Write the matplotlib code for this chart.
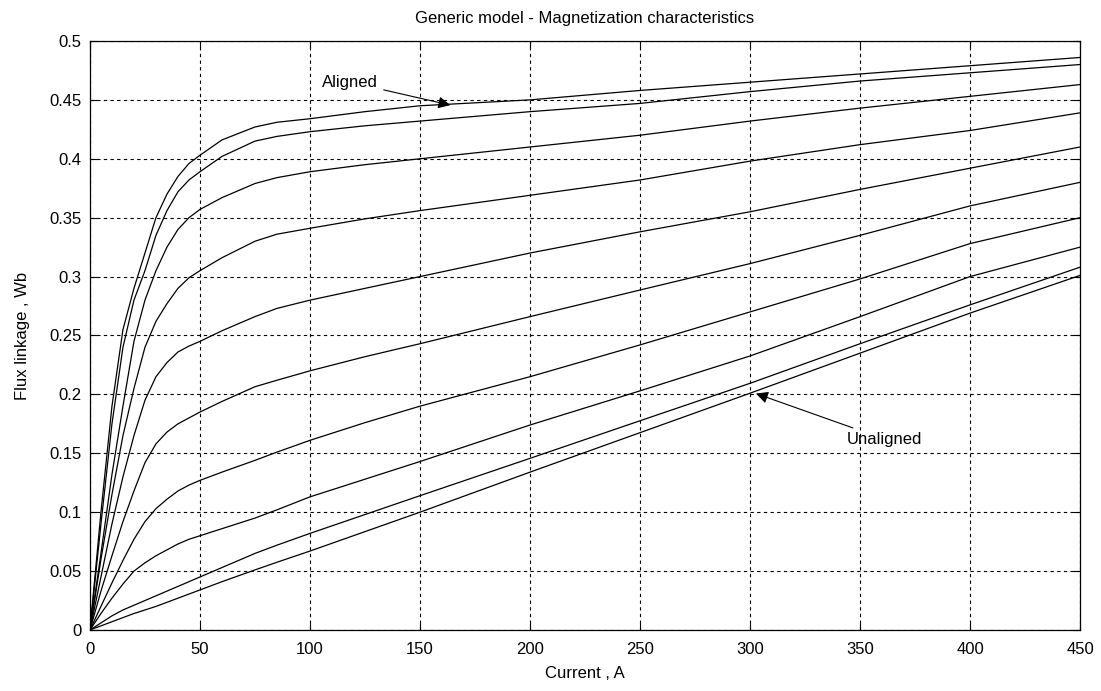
import numpy as np
import matplotlib
matplotlib.use("Agg")
import matplotlib.pyplot as plt

plt.rcParams['font.family'] = ['Liberation Sans', 'DejaVu Sans']

# current (A)
current = [0, 5, 10, 15, 20, 25, 30, 35, 40, 45, 50, 60, 75, 85, 100, 125, 150, 200, 250, 300, 350, 400, 450]

# flux linkage (Wb), from aligned (top) down to unaligned (bottom)
flux_1 = [0, 0.100, 0.190, 0.255, 0.290, 0.320, 0.350, 0.370, 0.385, 0.396, 0.403, 0.416, 0.427, 0.431, 0.434, 0.440, 0.445, 0.450, 0.458, 0.465, 0.472, 0.479, 0.486]
flux_2 = [0, 0.090, 0.175, 0.240, 0.280, 0.305, 0.335, 0.356, 0.372, 0.382, 0.389, 0.402, 0.415, 0.419, 0.423, 0.428, 0.432, 0.440, 0.447, 0.457, 0.466, 0.473, 0.480]
flux_3 = [0, 0.065, 0.132, 0.190, 0.245, 0.280, 0.305, 0.325, 0.340, 0.350, 0.357, 0.367, 0.379, 0.384, 0.389, 0.395, 0.400, 0.410, 0.420, 0.432, 0.443, 0.453, 0.463]
flux_4 = [0, 0.060, 0.115, 0.165, 0.205, 0.240, 0.262, 0.277, 0.290, 0.299, 0.305, 0.316, 0.330, 0.336, 0.341, 0.349, 0.356, 0.369, 0.382, 0.398, 0.412, 0.424, 0.439]
flux_5 = [0, 0.045, 0.090, 0.130, 0.165, 0.195, 0.215, 0.227, 0.236, 0.241, 0.245, 0.254, 0.266, 0.273, 0.280, 0.290, 0.300, 0.320, 0.338, 0.355, 0.374, 0.392, 0.410]
flux_6 = [0, 0.033, 0.063, 0.092, 0.118, 0.142, 0.158, 0.168, 0.175, 0.180, 0.185, 0.194, 0.2065, 0.212, 0.220, 0.232, 0.243, 0.266, 0.2886, 0.311, 0.335, 0.360, 0.380]
flux_7 = [0, 0.020, 0.040, 0.059, 0.077, 0.092, 0.103, 0.111, 0.118, 0.123, 0.127, 0.134, 0.144, 0.151, 0.161, 0.176, 0.190, 0.215, 0.242, 0.270, 0.298, 0.328, 0.350]
flux_8 = [0, 0.014, 0.027, 0.039, 0.050, 0.057, 0.063, 0.068, 0.073, 0.077, 0.080, 0.086, 0.095, 0.102, 0.113, 0.128, 0.143, 0.174, 0.203, 0.2326, 0.266, 0.300, 0.325]
flux_9 = [0, 0.006, 0.012, 0.017, 0.021, 0.025, 0.029, 0.033, 0.037, 0.041, 0.045, 0.053, 0.065, 0.072, 0.082, 0.098, 0.114, 0.1457, 0.1776, 0.2094, 0.243, 0.276, 0.308]
flux_10 = [0, 0.0035, 0.007, 0.0105, 0.014, 0.017, 0.020, 0.0235, 0.027, 0.0305, 0.034, 0.041, 0.051, 0.0575, 0.067, 0.0835, 0.100, 0.134, 0.1675, 0.201, 0.235, 0.269, 0.301]

curves = [flux_1, flux_2, flux_3, flux_4, flux_5, flux_6, flux_7, flux_8, flux_9, flux_10]

x_ticks = [0, 50, 100, 150, 200, 250, 300, 350, 400, 450]
y_ticks = [0, 0.05, 0.1, 0.15, 0.2, 0.25, 0.3, 0.35, 0.4, 0.45, 0.5]
y_tick_labels = ['0', '0.05', '0.1', '0.15', '0.2', '0.25', '0.3', '0.35', '0.4', '0.45', '0.5']

fig = plt.figure(figsize=(11.01, 6.91), dpi=100)
ax = fig.add_axes([0.0817, 0.0883, 0.8993, 0.8524])

for flux in curves:
    ax.plot(current, flux, color='k', lw=0.9)

ax.set_xlim(0, 450)
ax.set_ylim(0, 0.5)
ax.set_xticks(x_ticks)
ax.set_yticks(y_ticks)
ax.set_yticklabels(y_tick_labels)
ax.tick_params(direction='in', length=5, width=0.8, top=True, right=True, labelsize=12)
ax.tick_params(axis='x', pad=9)
ax.tick_params(axis='y', pad=6)
ax.grid(True, color='k', lw=0.8, linestyle=(0, (3, 3)))
for s in ax.spines.values():
    s.set_linewidth(0.9)

ax.set_title('Generic model - Magnetization characteristics', fontsize=12, pad=13)
ax.set_xlabel('Current , A', fontsize=12, labelpad=6)
ax.set_ylabel('Flux linkage , Wb', fontsize=12, labelpad=14)

arrow = dict(arrowstyle='-|>', color='k', lw=0.8, mutation_scale=18)
ax.annotate('Aligned', xy=(165, 0.445), xytext=(131, 0.465), ha='right', va='center',
            fontsize=12, arrowprops=arrow)
ax.annotate('Unaligned', xy=(301.5, 0.2015), xytext=(344, 0.162), ha='left', va='center',
            fontsize=12, arrowprops=arrow)

fig.savefig('out.png', dpi=100)
